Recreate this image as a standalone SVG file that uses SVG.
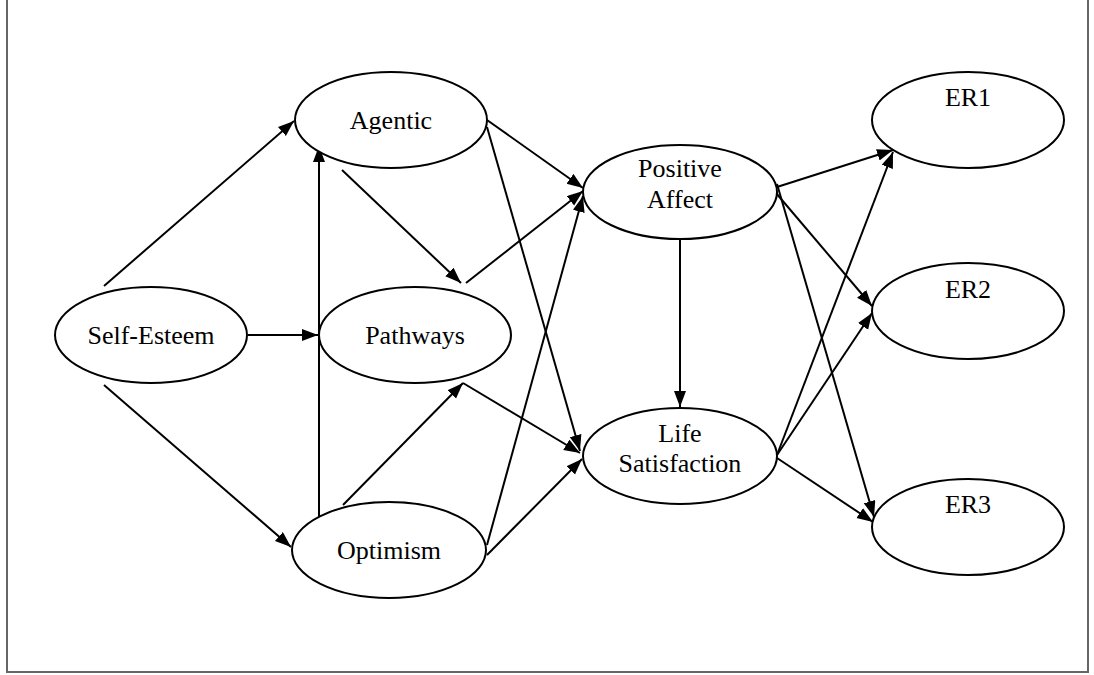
<svg xmlns="http://www.w3.org/2000/svg" width="1094" height="675" viewBox="0 0 1094 675">
  <style>
    .node ellipse { fill: #fff; stroke: #000; stroke-width: 2; }
    .node text { font-family: "Liberation Serif", "Times New Roman", serif; font-size: 26px; fill: #000; text-anchor: middle; }
    .edge { stroke: #000; stroke-width: 2; fill: none; marker-end: url(#arrow); }
  </style>
  <defs>
    <marker id="arrow" markerUnits="userSpaceOnUse" markerWidth="18" markerHeight="14" refX="16" refY="6" orient="auto">
      <path d="M0,0 L16,6 L0,12 z" fill="#000"/>
    </marker>
  </defs>

  <!-- outer frame -->
  <rect x="7" y="-5" width="1081" height="677" fill="#fff" stroke="#666" stroke-width="2"/>

  <!-- connectors -->
  <g id="connectors">
    <line class="edge" x1="104" y1="286" x2="294" y2="121"/>
    <line class="edge" x1="248" y1="335" x2="318" y2="335"/>
    <line class="edge" x1="104" y1="385" x2="291" y2="547"/>
    <line class="edge" x1="319" y1="520" x2="319" y2="146"/>
    <line class="edge" x1="342" y1="170" x2="461" y2="283"/>
    <line class="edge" x1="466" y1="283" x2="583" y2="191"/>
    <line class="edge" x1="487" y1="120" x2="583" y2="188"/>
    <line class="edge" x1="487" y1="127" x2="580" y2="451"/>
    <line class="edge" x1="343" y1="505" x2="463" y2="383"/>
    <line class="edge" x1="463" y1="383" x2="580" y2="453"/>
    <line class="edge" x1="487" y1="545" x2="583" y2="196"/>
    <line class="edge" x1="487" y1="555" x2="582" y2="459"/>
    <line class="edge" x1="680" y1="238" x2="680" y2="407"/>
    <line class="edge" x1="777" y1="187" x2="893" y2="150"/>
    <line class="edge" x1="777" y1="455" x2="893" y2="152"/>
    <line class="edge" x1="776" y1="193" x2="872" y2="306"/>
    <line class="edge" x1="777" y1="455" x2="872" y2="313"/>
    <line class="edge" x1="777" y1="184" x2="874" y2="517"/>
    <line class="edge" x1="777" y1="458" x2="873" y2="522"/>
  </g>

  <!-- nodes -->
  <g id="self-esteem" class="node">
    <ellipse cx="151" cy="335" rx="96" ry="48"/>
    <text x="151" y="344">Self-Esteem</text>
  </g>
  <g id="agentic" class="node">
    <ellipse cx="391" cy="120" rx="96" ry="48"/>
    <text x="391" y="129">Agentic</text>
  </g>
  <g id="pathways" class="node">
    <ellipse cx="415" cy="335" rx="96" ry="48"/>
    <text x="415" y="344">Pathways</text>
  </g>
  <g id="optimism" class="node">
    <ellipse cx="389" cy="550" rx="97" ry="48"/>
    <text x="389" y="559">Optimism</text>
  </g>
  <g id="positive-affect" class="node">
    <ellipse cx="680" cy="192" rx="97" ry="47"/>
    <text x="680" y="177">Positive</text>
    <text x="680" y="208">Affect</text>
  </g>
  <g id="life-satisfaction" class="node">
    <ellipse cx="680" cy="456" rx="97" ry="48"/>
    <text x="680" y="442">Life</text>
    <text x="680" y="472">Satisfaction</text>
  </g>
  <g id="er1" class="node">
    <ellipse cx="968" cy="120" rx="96" ry="48"/>
    <text x="968" y="106">ER1</text>
  </g>
  <g id="er2" class="node">
    <ellipse cx="968" cy="311" rx="96" ry="48"/>
    <text x="968" y="298">ER2</text>
  </g>
  <g id="er3" class="node">
    <ellipse cx="968" cy="527" rx="96" ry="48"/>
    <text x="968" y="513">ER3</text>
  </g>
</svg>
